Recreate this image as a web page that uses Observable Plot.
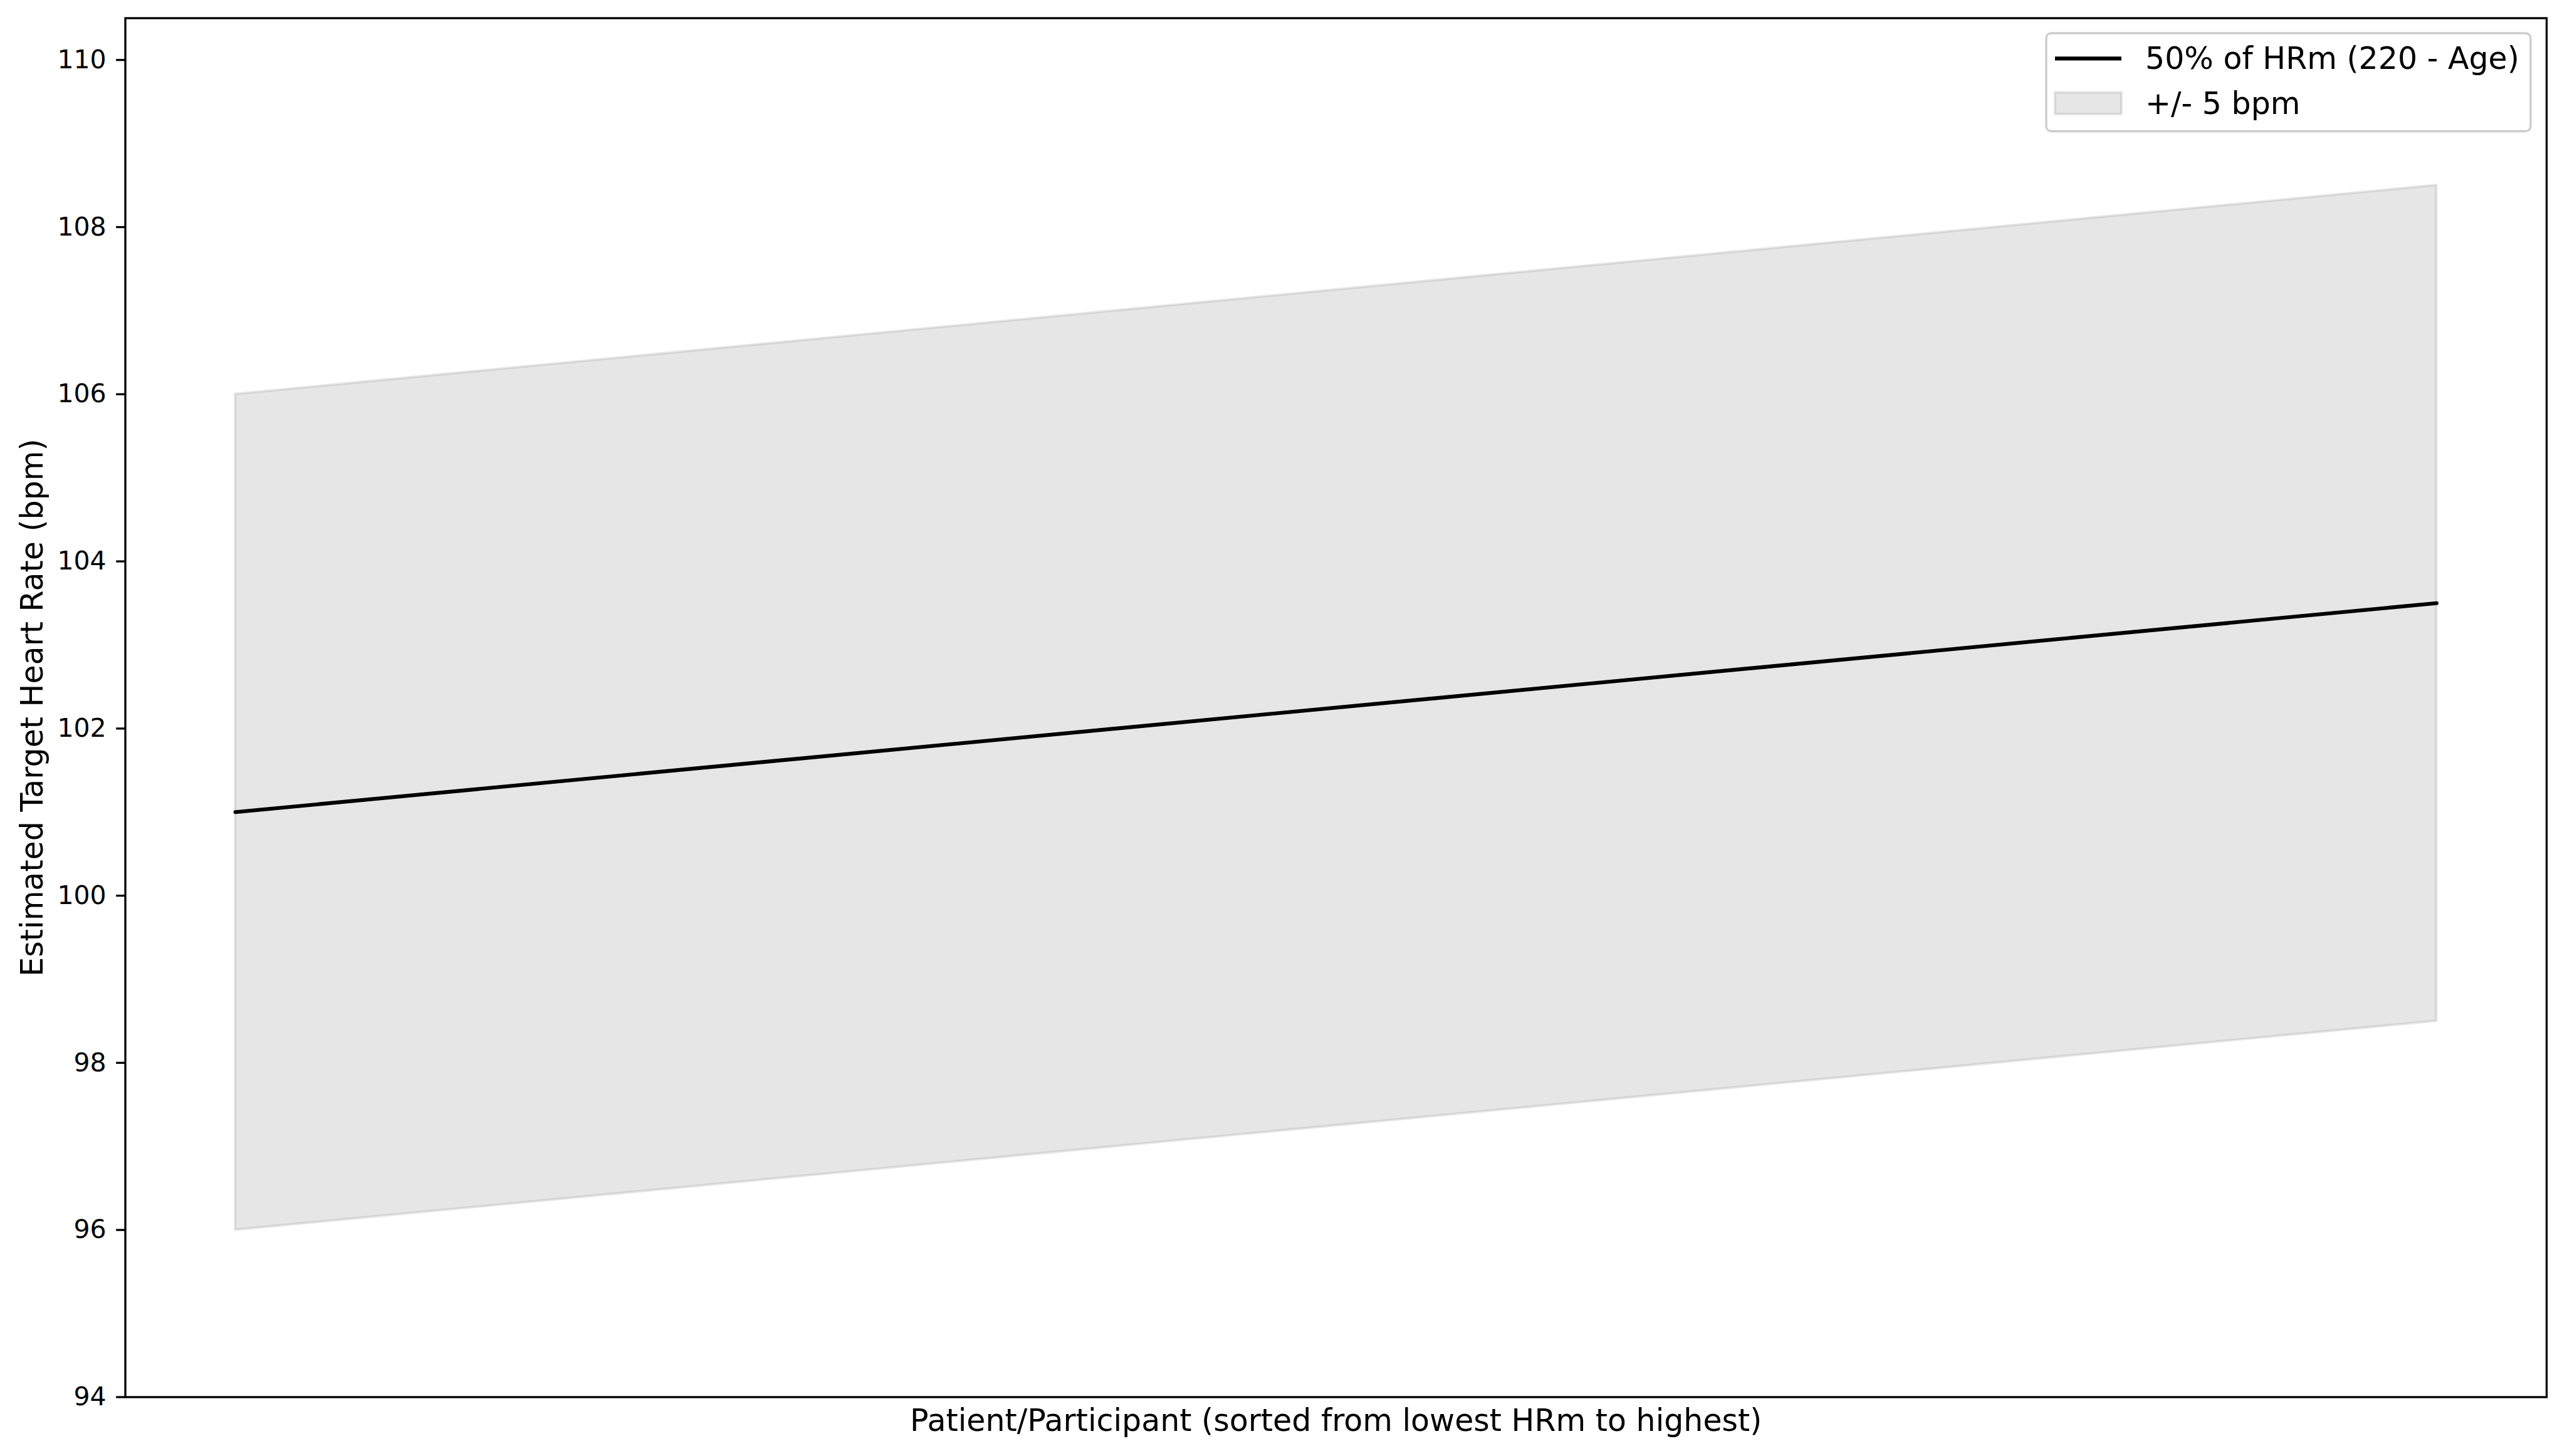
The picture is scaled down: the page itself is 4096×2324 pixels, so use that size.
<!DOCTYPE html>
<html>
<head>
<meta charset="utf-8">
<script src="https://cdn.jsdelivr.net/npm/d3@7"></script>
<script src="https://cdn.jsdelivr.net/npm/@observablehq/plot@0.6"></script>
<style>
  html, body { margin: 0; padding: 0; background: #fff; }
  #wrap { position: relative; width: 4096px; height: 2324px; font-family: "DejaVu Sans", sans-serif; }
  #legend { position: absolute; }
</style>
</head>
<body>
<div id="wrap"></div>
<script>
// ---- data ----
const patients = [0, 1];                 // first and last patient (sorted by HRm)
const target = [101, 103.5];             // 50% of HRm (220 - Age)
const lower = [96, 98.5];                // target - 5 bpm
const upper = [106, 108.5];              // target + 5 bpm
const yTicks = [94, 96, 98, 100, 102, 104, 106, 108, 110];
const legendLabels = ["50% of HRm (220 - Age)", "+/- 5 bpm"];
const xLabel = "Patient/Participant (sorted from lowest HRm to highest)";
const yLabel = "Estimated Target Heart Rate (bpm)";

const rows = patients.map((p, i) => ({p, t: target[i], lo: lower[i], hi: upper[i]}));
const span = d3.max(patients) - d3.min(patients);
const xDomain = [d3.min(patients) - 0.05 * span, d3.max(patients) + 0.05 * span];

const W = 4096, H = 2324;
const chart = Plot.plot({
  width: W, height: H,
  marginLeft: 199.5, marginRight: 33, marginTop: 28.5, marginBottom: 94.5,
  style: {fontFamily: "DejaVu Sans", background: "#fff", color: "#000"},
  x: {domain: xDomain, axis: null},
  y: {domain: [94, 110.5], axis: null},
  marks: [
    Plot.areaY(rows, {x: "p", y1: "lo", y2: "hi", fill: "gray", fillOpacity: 0.2,
      stroke: "gray", strokeOpacity: 0.2, strokeWidth: 4.1}),
    Plot.lineY(rows, {x: "p", y: "t", stroke: "black", strokeWidth: 6.1}),
    Plot.axisY({ticks: yTicks, tickSize: 14.3, tickPadding: 16, fontSize: 41,
      stroke: "black", strokeWidth: 3.3, label: null, tickFormat: d => String(d)}),
    Plot.text([xLabel], {frameAnchor: "bottom", text: d => d, fontSize: 49,
      textAnchor: "middle", lineAnchor: "middle", dy: 38.5, fill: "black"}),
    Plot.text([yLabel], {frameAnchor: "left", text: d => d, fontSize: 49,
      textAnchor: "middle", lineAnchor: "middle", rotate: -90, dx: -147.5, fill: "black"}),
    Plot.frame({stroke: "black", strokeWidth: 3.3})
  ]
});
const wrap = document.getElementById("wrap");
wrap.appendChild(chart);

// ---- legend (overlay, matplotlib style) ----
const lg = d3.create("svg").attr("id", "legend").attr("width", W).attr("height", 260)
  .style("position", "absolute").style("left", "0px").style("top", "0px");
lg.append("rect").attr("x", 3265).attr("y", 53).attr("width", 773).attr("height", 156.5)
  .attr("rx", 8).attr("fill", "#fff").attr("fill-opacity", 0.8)
  .attr("stroke", "#cccccc").attr("stroke-width", 3.3);
lg.append("line").attr("x1", 3279).attr("x2", 3385).attr("y1", 93.4).attr("y2", 93.4)
  .attr("stroke", "black").attr("stroke-width", 6.1);
lg.append("rect").attr("x", 3279).attr("y", 147.5).attr("width", 106).attr("height", 34.5)
  .attr("fill", "gray").attr("fill-opacity", 0.2).attr("stroke", "gray")
  .attr("stroke-opacity", 0.2).attr("stroke-width", 4.1);
lg.append("text").attr("x", 3423).attr("y", 110).attr("font-size", 49)
  .attr("font-family", "DejaVu Sans").text(legendLabels[0]);
lg.append("text").attr("x", 3423).attr("y", 182).attr("font-size", 49)
  .attr("font-family", "DejaVu Sans").text(legendLabels[1]);
wrap.appendChild(lg.node());
</script>
</body>
</html>
